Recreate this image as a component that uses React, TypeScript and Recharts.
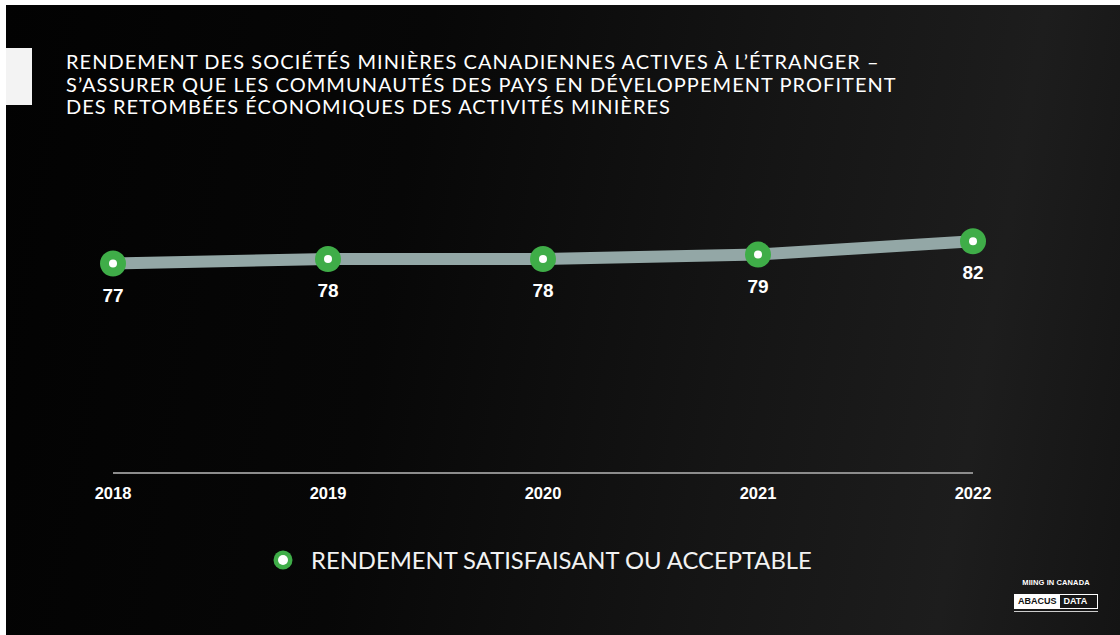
import { LineChart, Line, XAxis, YAxis, LabelList, Legend } from "recharts";

const years = ["2018", "2019", "2020", "2021", "2022"];
const satisfaisant = [77, 78, 78, 79, 82];

const titleLines = [
  "RENDEMENT DES SOCIÉTÉS MINIÈRES CANADIENNES ACTIVES À L’ÉTRANGER –",
  "S’ASSURER QUE LES COMMUNAUTÉS DES PAYS EN DÉVELOPPEMENT PROFITENT",
  "DES RETOMBÉES ÉCONOMIQUES DES ACTIVITÉS MINIÈRES",
];
const seriesName = "RENDEMENT SATISFAISANT OU ACCEPTABLE";

const GREEN = "#3fad48";
const LINE_GREY = "#93a7a6";
const ARIAL = "'Liberation Sans', Arial, sans-serif";

const data = years.map((year, i) => ({ year, value: satisfaisant[i] }));

function YearTick(props: any) {
  const { x, y, payload } = props;
  return (
    <text x={x} y={y + 26} textAnchor="middle" fill="#fff" fontSize={16.5} fontWeight={700} fontFamily={ARIAL}>
      {payload.value}
    </text>
  );
}

function RingDot(props: any) {
  const { cx, cy, index } = props;
  if (cx == null || cy == null) return null;
  return (
    <g key={`dot-${index}`}>
      <circle cx={cx} cy={cy} r={13} fill={GREEN} />
      <circle cx={cx} cy={cy} r={4} fill="#fff" />
    </g>
  );
}

function ValueLabel(props: any) {
  const { x, y, value } = props;
  return (
    <text x={x} y={y + 38} textAnchor="middle" fill="#fff" fontSize={19} fontWeight={700} fontFamily={ARIAL}>
      {value}
    </text>
  );
}

function LegendContent() {
  return (
    <div style={{ display: "flex", alignItems: "center" }}>
      <svg width={22} height={22} style={{ marginRight: 17 }}>
        <circle cx={11} cy={11} r={9.5} fill={GREEN} />
        <circle cx={11} cy={11} r={5} fill="#fff" />
      </svg>
      <span style={{ color: "#f2f2f2", fontFamily: "Lato, 'Open Sans', sans-serif", fontSize: 23.8, whiteSpace: "nowrap" }}>
        {seriesName}
      </span>
    </div>
  );
}

export default function App() {
  return (
    <div
      style={{
        position: "absolute",
        left: 6,
        top: 5,
        width: 1114,
        height: 630,
        overflow: "hidden",
        background:
          "linear-gradient(100deg, #020202 0%, #070707 35%, #151515 65%, #1d1d1d 85%, #141414 100%)",
      }}
    >
      {/* white tab on the left edge */}
      <div style={{ position: "absolute", left: 0, top: 43, width: 26, height: 57, background: "#f3f3f3" }} />

      <div
        style={{
          position: "absolute",
          left: 60,
          top: 45,
          color: "#fff",
          fontFamily: "Lato, 'Open Sans', sans-serif",
          fontSize: 20,
          letterSpacing: 1.05,
          lineHeight: "22.5px",
          whiteSpace: "nowrap",
        }}
      >
        {titleLines.map((t) => (
          <div key={t}>{t}</div>
        ))}
      </div>

      <div style={{ position: "absolute", left: 0, top: 0 }}>
        <LineChart width={1114} height={630} data={data} margin={{ top: 156, right: 147, left: 107, bottom: 104 }}>
          <XAxis
            dataKey="year"
            height={30}
            axisLine={{ stroke: "#8c8c8c", strokeWidth: 2 }}
            tickLine={false}
            tickSize={0}
            tickMargin={0}
            tick={<YearTick />}
            interval={0}
          />
          <YAxis hide domain={[30, 100]} />
          <Legend
            verticalAlign="bottom"
            content={<LegendContent />}
            wrapperStyle={{ position: "absolute", left: 266, top: 541, width: 620 }}
          />
          <Line
            dataKey="value"
            name={seriesName}
            stroke={LINE_GREY}
            strokeWidth={12}
            dot={<RingDot />}
            activeDot={false}
            isAnimationActive={false}
          >
            <LabelList dataKey="value" content={<ValueLabel />} />
          </Line>
        </LineChart>
      </div>

      {/* source logo */}
      <div style={{ position: "absolute", left: 1008, top: 573, width: 84, fontFamily: ARIAL, color: "#fff" }}>
        <div style={{ fontSize: 7.5, fontWeight: 700, textAlign: "center", letterSpacing: 0.1 }}>MIING IN CANADA</div>
        <div style={{ marginTop: 7, display: "flex", border: "1.5px solid #fff", fontSize: 9, fontWeight: 700, lineHeight: "13px" }}>
          <span style={{ background: "#fff", color: "#111", padding: "0 3px" }}>ABACUS</span>
          <span style={{ color: "#fff", padding: "0 4px" }}>DATA</span>
        </div>
        <div style={{ marginTop: 2, height: 1, background: "#ccc" }} />
      </div>
    </div>
  );
}
